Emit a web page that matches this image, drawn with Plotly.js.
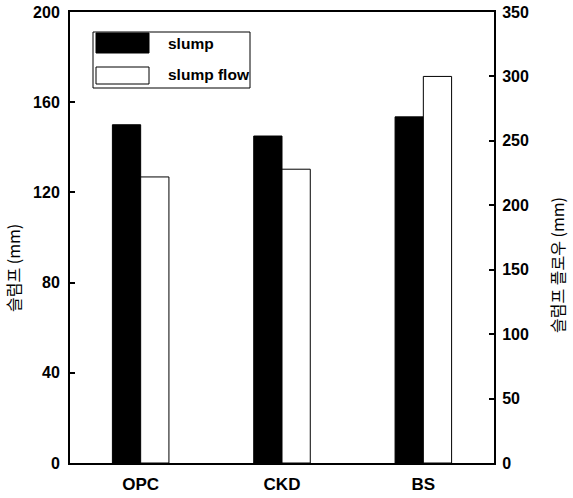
<!DOCTYPE html>
<html>
<head>
<meta charset="utf-8">
<script src="https://cdn.plot.ly/plotly-3.0.1.min.js"></script>
<style>html,body{margin:0;padding:0;background:#fff;}#chart{width:573px;height:498px;}</style>
</head>
<body>
<div id="chart"></div>
<script>
var categories = ["OPC", "CKD", "BS"];
var slump = [150, 145, 153.5];
var slumpFlow = [222, 228, 300];
var leftTicks = [0, 40, 80, 120, 160, 200];
var rightTicks = [0, 50, 100, 150, 200, 250, 300, 350];
var seriesNames = ["slump", "slump flow"];
var leftTitle = "슬럼프 (mm)";
var rightTitle = "슬럼프 플로우 (mm)";

var tickFont = {family: "Liberation Sans, Arial, sans-serif", size: 16, color: "#000", weight: "bold"};
var catFont = {family: "Liberation Sans, Arial, sans-serif", size: 17, color: "#000", weight: "bold"};
var krFont = {family: "Noto Sans CJK KR, sans-serif", size: 16, color: "#000"};
var legFont = {family: "Liberation Sans, Arial, sans-serif", size: 15.5, color: "#000", weight: "bold"};

var traces = [
  {type: "bar", x: categories, y: slump, name: seriesNames[0], yaxis: "y",
   width: 0.2, offset: -0.2, marker: {color: "#000", line: {color: "#000", width: 1}}},
  {type: "bar", x: categories, y: slumpFlow, name: seriesNames[1], yaxis: "y2",
   width: 0.2, offset: 0, marker: {color: "#fff", line: {color: "#000", width: 1}}}
];

var layout = {
  width: 573, height: 498,
  margin: {l: 70, r: 79, t: 12, b: 35},
  paper_bgcolor: "#fff", plot_bgcolor: "#fff",
  showlegend: false,
  barmode: "group",
  xaxis: {
    type: "category", range: [-0.5, 2.5],
    showgrid: false, zeroline: false,
    showline: true, linecolor: "#000", linewidth: 2, mirror: true,
    ticks: "", tickfont: catFont, ticklabelstandoff: 5
  },
  yaxis: {
    range: [0, 200], tickvals: leftTicks, ticktext: leftTicks.map(String),
    showgrid: false, zeroline: false,
    showline: true, linecolor: "#000", linewidth: 2,
    ticks: "inside", ticklen: 5, tickwidth: 2, tickcolor: "#000",
    tickfont: tickFont, ticklabelstandoff: 5
  },
  yaxis2: {
    range: [0, 350], tickvals: rightTicks, ticktext: rightTicks.map(String),
    overlaying: "y", side: "right",
    showgrid: false, zeroline: false,
    showline: true, linecolor: "#000", linewidth: 2,
    ticks: "inside", ticklen: 5, tickwidth: 2, tickcolor: "#000",
    tickfont: tickFont, ticklabelstandoff: 3
  },
  shapes: [
    {type: "rect", xref: "paper", yref: "paper", x0: 23/424, x1: 180/424, y0: 1 - 76/451, y1: 1 - 20/451,
     line: {color: "#000", width: 1}, fillcolor: "#fff"},
    {type: "rect", xref: "paper", yref: "paper", x0: 26/424, x1: 79/424, y0: 1 - 41/451, y1: 1 - 21/451,
     line: {color: "#000", width: 1}, fillcolor: "#000"},
    {type: "rect", xref: "paper", yref: "paper", x0: 26/424, x1: 79/424, y0: 1 - 72/451, y1: 1 - 55/451,
     line: {color: "#000", width: 1}, fillcolor: "#fff"}
  ],
  annotations: [
    {xref: "paper", yref: "paper", x: 96/424, y: 1 - 31/451, text: seriesNames[0], showarrow: false,
     xanchor: "left", yanchor: "middle", font: legFont},
    {xref: "paper", yref: "paper", x: 96/424, y: 1 - 63/451, text: seriesNames[1], showarrow: false,
     xanchor: "left", yanchor: "middle", font: legFont},
    {xref: "paper", yref: "paper", x: -57/424, y: (463 - 268)/451, text: leftTitle, textangle: -90, showarrow: false,
     xanchor: "center", yanchor: "middle", font: krFont},
    {xref: "paper", yref: "paper", x: 1 + 63/424, y: (463 - 265)/451, text: rightTitle, textangle: -90, showarrow: false,
     xanchor: "center", yanchor: "middle", font: krFont}
  ]
};

Plotly.newPlot("chart", traces, layout, {displayModeBar: false, staticPlot: true});
</script>
</body>
</html>
